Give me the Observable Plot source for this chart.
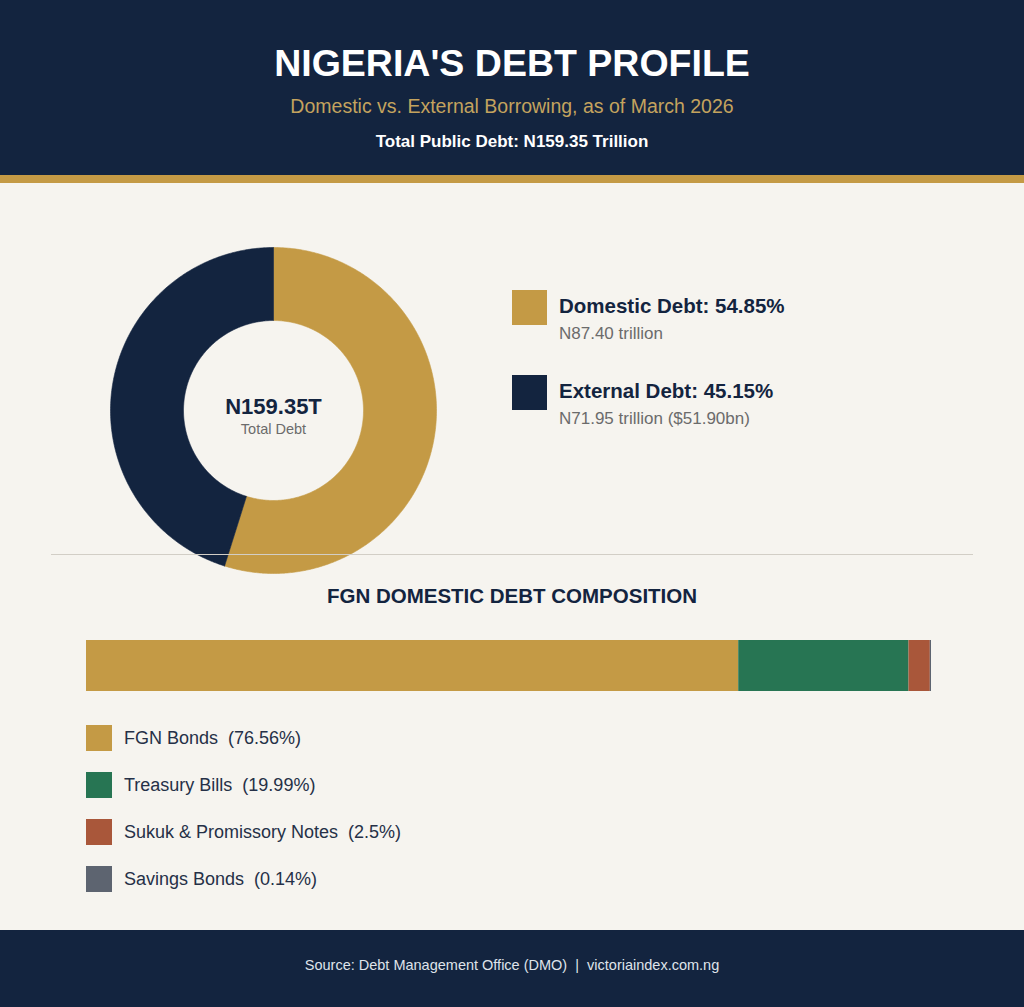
<!DOCTYPE html>
<html>
<head>
<meta charset="utf-8">
<script src="https://cdn.jsdelivr.net/npm/d3@7"></script>
<script src="https://cdn.jsdelivr.net/npm/@observablehq/plot@0.6"></script>
<style>
  html, body { margin: 0; padding: 0; }
  body { width: 1024px; height: 1007px; overflow: hidden; background: #f6f4ef; font-family: "Liberation Sans", Arial, sans-serif; }
  #page { position: relative; width: 1024px; height: 1007px; background: #f6f4ef; }
  .abs { position: absolute; }
  #header { left: 0; top: 0; width: 1024px; height: 175px; background: #13243f; }
  #stripe { left: 0; top: 175px; width: 1024px; height: 8px; background: #c49a45; }
  #title { left: 0; width: 1024px; top: 41px; text-align: center; color: #fff; font-weight: bold; font-size: 37.5px; line-height: 44px; }
  #subtitle { left: 0; width: 1024px; top: 95px; text-align: center; color: #c4a35e; font-size: 19.5px; line-height: 22px; }
  #total { left: 0; width: 1024px; top: 132px; text-align: center; color: #fff; font-weight: bold; font-size: 17px; line-height: 20px; }
  .sw { width: 35px; height: 35px; }
  .lgT { font-weight: bold; font-size: 20.5px; color: #13243f; line-height: 22px; white-space: nowrap; }
  .lgS { font-size: 17px; color: #6b6b6b; line-height: 20px; white-space: nowrap; }
  #divider { left: 51px; top: 554px; width: 922px; height: 1px; background: #d2cec6; }
  #secTitle { left: 0; width: 1024px; top: 585px; text-align: center; font-weight: bold; font-size: 20.5px; color: #13243f; line-height: 22px; }
  .sw2 { width: 26px; height: 26px; }
  .lg2 { font-size: 18px; color: #253047; line-height: 20px; white-space: nowrap; }
  #footer { left: 0; top: 930px; width: 1024px; height: 77px; background: #13243f; }
  #source { left: 0; width: 1024px; top: 956px; text-align: center; color: #dfe3ea; font-size: 14.5px; line-height: 18px; }
</style>
</head>
<body>
<div id="page">
  <div id="header" class="abs"></div>
  <div id="stripe" class="abs"></div>
  <div id="title" class="abs">NIGERIA'S DEBT PROFILE</div>
  <div id="subtitle" class="abs">Domestic vs. External Borrowing, as of March 2026</div>
  <div id="total" class="abs">Total Public Debt: N159.35 Trillion</div>
  <div id="donut" class="abs" style="left:110px; top:247px;"></div>
  <div id="legend1"></div>
  <div id="divider" class="abs"></div>
  <div id="secTitle" class="abs">FGN DOMESTIC DEBT COMPOSITION</div>
  <div id="bar" class="abs" style="left:86px; top:640px;"></div>
  <div id="legend2"></div>
  <div id="footer" class="abs"></div>
  <div id="source" class="abs">Source: Debt Management Office (DMO) &nbsp;|&nbsp; victoriaindex.com.ng</div>
</div>
<script>
// ---- Data ----
const debtTypes = ["Domestic Debt", "External Debt"];
const debtShares = [54.85, 45.15];
const debtAmounts = ["N87.40 trillion", "N71.95 trillion ($51.90bn)"];
const debtColors = ["#c49a45", "#13243f"];
const totalLabel = "N159.35T";
const totalSub = "Total Debt";

const compNames = ["FGN Bonds", "Treasury Bills", "Sukuk & Promissory Notes", "Savings Bonds"];
const compShares = [76.56, 19.99, 2.5, 0.14];
const compLabels = ["76.56%", "19.99%", "2.5%", "0.14%"];
const compColors = ["#c49a45", "#277553", "#a9573a", "#5d6470"];

// ---- Donut ----
const outerR = 1, innerR = 90 / 163;
const pie = d3.pie().sort(null).startAngle(0).endAngle(2 * Math.PI);
const arcs = pie(debtShares);
const pts = [];
arcs.forEach((a, i) => {
  const n = Math.max(8, Math.ceil((a.endAngle - a.startAngle) / 0.01));
  const ring = [];
  for (let k = 0; k <= n; k++) {
    const t = a.startAngle + (a.endAngle - a.startAngle) * k / n;
    ring.push({key: debtTypes[i], x: outerR * Math.sin(t), y: outerR * Math.cos(t)});
  }
  for (let k = n; k >= 0; k--) {
    const t = a.startAngle + (a.endAngle - a.startAngle) * k / n;
    ring.push({key: debtTypes[i], x: innerR * Math.sin(t), y: innerR * Math.cos(t)});
  }
  ring.push(ring[0]);
  pts.push(...ring);
});
const donut = Plot.plot({
  width: 326, height: 326, margin: 0,
  style: {background: "transparent", overflow: "visible"},
  x: {domain: [-1, 1], axis: null},
  y: {domain: [-1, 1], axis: null},
  color: {domain: debtTypes, range: debtColors},
  marks: [
    Plot.line(pts, {x: "x", y: "y", z: "key", fill: "key", stroke: "key", strokeWidth: 0.6, curve: "linear"}),
    Plot.text([totalLabel], {x: 0, y: 0.02, text: d => d, fontSize: 22, fontWeight: "bold", fill: "#13243f", fontFamily: "Liberation Sans, Arial, sans-serif"}),
    Plot.text([totalSub], {x: 0, y: -0.115, text: d => d, fontSize: 14.5, fill: "#6b6b6b", fontFamily: "Liberation Sans, Arial, sans-serif"})
  ]
});
document.getElementById("donut").appendChild(donut);

// legend 1
const lg1 = document.getElementById("legend1");
debtTypes.forEach((t, i) => {
  const top = 290 + i * 85;
  lg1.insertAdjacentHTML("beforeend",
    `<div class="abs sw" style="left:512px; top:${top}px; background:${debtColors[i]}"></div>
     <div class="abs lgT" style="left:559px; top:${top + 5}px;">${t}: ${debtShares[i].toFixed(2)}%</div>
     <div class="abs lgS" style="left:559px; top:${top + 34}px;">${debtAmounts[i]}</div>`);
});

// ---- Stacked bar ----
const comp = compNames.map((n, i) => ({name: n, value: compShares[i]}));
const bar = Plot.plot({
  width: 845, height: 51, margin: 0,
  style: {background: "transparent"},
  x: {domain: [0, d3.sum(compShares)], axis: null},
  color: {domain: compNames, range: compColors},
  marks: [
    Plot.barX(comp, {x: "value", fill: "name", order: null})
  ]
});
document.getElementById("bar").appendChild(bar);

// legend 2
const lg2 = document.getElementById("legend2");
compNames.forEach((n, i) => {
  const top = 725 + i * 47;
  lg2.insertAdjacentHTML("beforeend",
    `<div class="abs sw2" style="left:86px; top:${top}px; background:${compColors[i]}"></div>
     <div class="abs lg2" style="left:124px; top:${top + 3}px;">${n}&nbsp; (${compLabels[i]})</div>`);
});
</script>
</body>
</html>
